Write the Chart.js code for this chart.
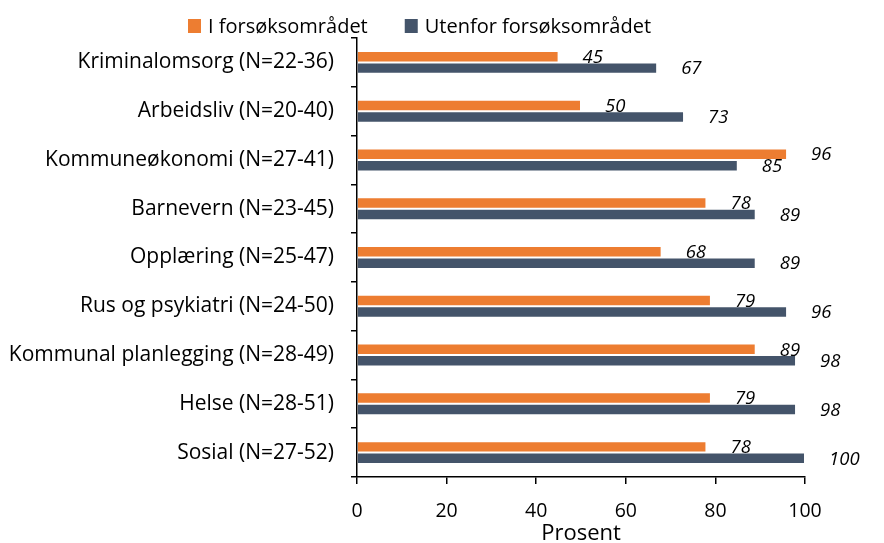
<!DOCTYPE html>
<html>
<head>
<meta charset="utf-8">
<script src="https://cdn.jsdelivr.net/npm/chart.js@4.4.1/dist/chart.umd.min.js"></script>
<style>
  html, body { margin: 0; padding: 0; background: #fff; }
  #wrap { width: 884px; height: 543px; }
</style>
</head>
<body>
<div id="wrap"><canvas id="forsok-chart" width="884" height="543"></canvas></div>
<script>
  const categories = [
    'Kriminalomsorg (N=22-36)',
    'Arbeidsliv (N=20-40)',
    'Kommuneøkonomi (N=27-41)',
    'Barnevern (N=23-45)',
    'Opplæring (N=25-47)',
    'Rus og psykiatri (N=24-50)',
    'Kommunal planlegging (N=28-49)',
    'Helse (N=28-51)',
    'Sosial (N=27-52)'
  ];
  const iForsok = [45, 50, 96, 78, 68, 79, 89, 79, 78];
  const utenfor = [67, 73, 85, 89, 89, 96, 98, 98, 100];
  const xTicks = [0, 20, 40, 60, 80, 100];
  const seriesNames = ['I forsøksområdet', 'Utenfor forsøksområdet'];

  const orange = '#ED7D31';
  const navy = '#44546A';
  const fontFamily = '"Open Sans", sans-serif';

  Chart.defaults.font.family = fontFamily;
  Chart.defaults.color = '#000';

  // value labels, left aligned a bit after the bar end
  const valueLabels = {
    id: 'valueLabels',
    afterDatasetsDraw(chart) {
      const ctx = chart.ctx;
      ctx.save();
      ctx.font = 'italic 18.5px ' + fontFamily;
      ctx.fillStyle = '#000';
      ctx.textAlign = 'left';
      ctx.textBaseline = 'middle';
      chart.data.datasets.forEach((ds, i) => {
        chart.getDatasetMeta(i).data.forEach((bar, j) => {
          ctx.fillText(ds.data[j], bar.x + 24, bar.y + 1);
        });
      });
      ctx.restore();
    }
  };

  // legend above the plot
  const topLegend = {
    id: 'topLegend',
    afterDraw(chart) {
      const ctx = chart.ctx;
      ctx.save();
      ctx.font = '20px ' + fontFamily;
      ctx.textBaseline = 'middle';
      let x = 188;
      const y = 26;
      chart.data.datasets.forEach(ds => {
        ctx.fillStyle = ds.backgroundColor;
        ctx.fillRect(x, y - 7, 13, 14);
        x += 20;
        ctx.fillStyle = '#000';
        ctx.fillText(ds.label, x, y + 1);
        x += ctx.measureText(ds.label).width + 37;
      });
      ctx.restore();
    }
  };

  new Chart(document.getElementById('forsok-chart'), {
    type: 'bar',
    data: {
      labels: categories,
      datasets: [{
        label: seriesNames[0],
        data: iForsok,
        backgroundColor: orange,
        borderColor: 'rgba(255,255,255,0.35)',
        borderWidth: 1,
        barPercentage: 1.0,
        categoryPercentage: 0.47
      }, {
        label: seriesNames[1],
        data: utenfor,
        backgroundColor: navy,
        borderColor: 'rgba(255,255,255,0.35)',
        borderWidth: 1,
        barPercentage: 1.0,
        categoryPercentage: 0.47
      }]
    },
    options: {
      indexAxis: 'y',
      responsive: false,
      animation: false,
      layout: {
        padding: { top: 38, right: 79, bottom: 0, left: 0 }
      },
      scales: {
        x: {
          min: 0,
          max: 100,
          afterBuildTicks: function (scale) {
            scale.ticks = xTicks.map(v => ({ value: v }));
          },
          afterFit: function (scale) {
            scale.height = 66;
          },
          grid: {
            drawOnChartArea: false,
            drawTicks: true,
            tickLength: 7,
            color: '#000',
            lineWidth: 1.5
          },
          border: { display: true, color: '#000', width: 1.5 },
          ticks: {
            font: { size: 19.5 },
            padding: 16,
            maxRotation: 0
          },
          title: {
            display: true,
            text: 'Prosent',
            font: { size: 22, lineHeight: 1 },
            padding: { top: 0, bottom: -2 }
          }
        },
        y: {
          afterFit: function (scale) {
            scale.width = 357;
          },
          grid: {
            offset: true,
            drawOnChartArea: false,
            drawTicks: true,
            tickLength: 6,
            color: '#000',
            lineWidth: 1.5
          },
          border: { display: true, color: '#000', width: 1.5 },
          ticks: {
            font: { size: 21 },
            padding: 17
          }
        }
      },
      plugins: {
        legend: { display: false },
        tooltip: { enabled: false }
      }
    },
    plugins: [valueLabels, topLegend]
  });
</script>
</body>
</html>
